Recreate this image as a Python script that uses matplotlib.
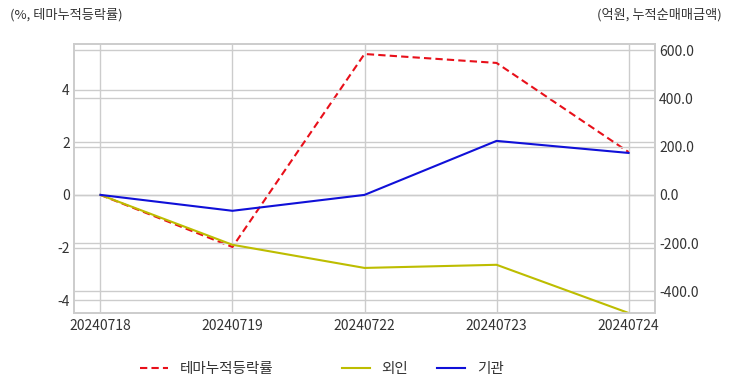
import matplotlib
matplotlib.use("Agg")
import matplotlib.pyplot as plt

plt.rcParams['font.family'] = ['Noto Sans CJK KR', 'DejaVu Sans']

dates = ["20240718", "20240719", "20240722", "20240723", "20240724"]
theme_rate = [0.0, -1.98, 5.36, 5.02, 1.63]
foreign = [0.0, -207.0, -303.0, -290.0, -490.0]
institution = [0.0, -66.0, 0.0, 224.0, 174.0]

left_ticks = [-4, -2, 0, 2, 4]
right_ticks = [-400, -200, 0, 200, 400, 600]

grid_c = '#cccccc'
text_c = '#333333'

fig = plt.figure(figsize=(7.32, 3.92), dpi=100)
ax = fig.add_axes([74/732, 1-313/392, (655-74)/732, (313-44)/392])
ax2 = ax.twinx()

x = list(range(len(dates)))
l1, = ax.plot(x, theme_rate, color='#e8101a', linestyle='--', linewidth=1.5, dashes=(3.5, 2))
l2, = ax2.plot(x, foreign, color='#bdbd00', linewidth=1.5)
l3, = ax2.plot(x, institution, color='#1010d8', linewidth=1.5)

ax.set_xlim(-0.2, 4.2)
ax.set_ylim(-4.49, 5.74)
ax2.set_ylim(-490, 626)

ax.set_xticks(x)
ax.set_xticklabels(dates)
ax.set_yticks(left_ticks)
ax.set_yticklabels([str(v) for v in left_ticks])
ax2.set_yticks(right_ticks)
ax2.set_yticklabels([f"{v:.1f}" for v in right_ticks])

for a in (ax, ax2):
    a.grid(True, color=grid_c, linewidth=1)
    a.set_axisbelow(True)
    a.tick_params(length=0, labelsize=10, colors=text_c, pad=3)
    for s in a.spines.values():
        s.set_color(grid_c)
        s.set_linewidth(1.2)
ax2.grid(axis='x', visible=False)
ax.tick_params(axis='x', pad=4)

fig.text(10/732, 1-15/392, "(%, 테마누적등락률)", fontsize=9.5, color=text_c, ha='left', va='center')
fig.text(722/732, 1-15/392, "(억원, 누적순매매금액)", fontsize=9.5, color=text_c, ha='right', va='center')

kw = dict(frameon=False, fontsize=10.5, handlelength=1.9, handletextpad=0.8, labelcolor=text_c,
          borderpad=0, borderaxespad=0)
leg1 = fig.legend([l1], ["테마누적등락률"], loc='center left', bbox_to_anchor=(140/732, 1-369/392), **kw)
leg2 = fig.legend([l2, l3], ["외인", "기관"], loc='center left', bbox_to_anchor=(342/732, 1-369/392),
                  ncol=2, columnspacing=2.0, **kw)

fig.savefig("out.png", dpi=100)
